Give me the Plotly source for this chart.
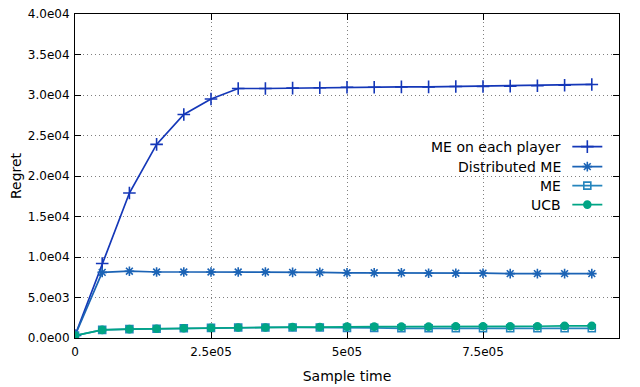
import plotly.graph_objects as go

sample_time = [0, 50000, 100000, 150000, 200000, 250000, 300000, 350000, 400000, 450000,
               500000, 550000, 600000, 650000, 700000, 750000, 800000, 850000, 900000, 950000]

me_each_player = [300, 9200, 17900, 23900, 27600, 29500, 30800, 30800, 30850, 30900,
                  30950, 30950, 31000, 31000, 31050, 31050, 31100, 31150, 31200, 31300]
distributed_me = [300, 8100, 8250, 8150, 8150, 8150, 8150, 8150, 8100, 8100,
                  8050, 8050, 8050, 8000, 8000, 8000, 7950, 7950, 7950, 7950]
me = [300, 1000, 1100, 1150, 1200, 1250, 1300, 1300, 1300, 1300,
      1250, 1250, 1200, 1200, 1200, 1200, 1200, 1200, 1200, 1200]
ucb = [300, 1000, 1100, 1150, 1200, 1250, 1300, 1300, 1350, 1350,
       1400, 1400, 1400, 1400, 1450, 1450, 1450, 1450, 1500, 1500]

series_names = ["ME on each player", "Distributed ME", "ME", "UCB"]
series_values = [me_each_player, distributed_me, me, ucb]
series_colors = ["#1437b8", "#1b63b5", "#2585bd", "#00a585"]
series_symbols = ["cross-thin-open", "asterisk-open", "square-open", "circle"]
series_sizes = [9, 8, 7, 7]

x_tickvals = [0, 250000, 500000, 750000]
x_ticktext = ["0", "2.5e05", "5e05", "7.5e05"]
y_tickvals = [0, 5000, 10000, 15000, 20000, 25000, 30000, 35000, 40000]
y_ticktext = ["0.0e00", "5.0e03", "1.0e04", "1.5e04", "2.0e04", "2.5e04", "3.0e04", "3.5e04", "4.0e04"]

FONT = "DejaVu Sans"
legend_ids = ["legend", "legend2", "legend3", "legend4"]
row_y = [0.5895, 0.5278, 0.4691, 0.4105]

fig = go.Figure()
for name, vals, col, sym, sz, lid in zip(series_names, series_values, series_colors,
                                         series_symbols, series_sizes, legend_ids):
    fig.add_trace(go.Scatter(
        x=sample_time, y=vals, name="", hovertext=name, legend=lid,
        mode="lines+markers",
        line=dict(color=col, width=1.7),
        marker=dict(symbol=sym, size=sz, color=col, line=dict(color=col, width=1.6)),
    ))

# Legend labels (right-aligned text, as in the original) + one single-item legend per row
legend_layout = {}
for name, yy, lid in zip(series_names, row_y, legend_ids):
    fig.add_annotation(x=0.897, y=yy, xref="paper", yref="paper", text=name,
                       showarrow=False, xanchor="right", yanchor="middle",
                       font=dict(family=FONT, size=14, color="black"))
    legend_layout[lid] = dict(x=0.905, y=yy, xref="paper", yref="paper",
                              xanchor="left", yanchor="middle",
                              bgcolor="rgba(0,0,0,0)",
                              font=dict(family=FONT, size=14, color="black"),
                              itemwidth=30)

axis_common = dict(
    showline=True, linecolor="black", linewidth=1, mirror="ticks",
    ticks="inside", ticklen=6, tickcolor="black",
    showgrid=True, gridcolor="#808080", griddash="1px,3px", gridwidth=1,
    zeroline=False, ticklabeloverflow="allow",
    tickfont=dict(family=FONT, size=12, color="black"),
)

fig.update_layout(
    width=640, height=387,
    margin=dict(l=67, r=29, t=6, b=57, autoexpand=False),
    paper_bgcolor="white", plot_bgcolor="white",
    font=dict(family=FONT, size=12, color="black"),
    showlegend=True,
    xaxis=dict(range=[0, 1000000], tickvals=x_tickvals, ticktext=x_ticktext,
               ticklabelstandoff=3,
               title=dict(text="Sample time", font=dict(family=FONT, size=14), standoff=12),
               **axis_common),
    yaxis=dict(range=[0, 40000], tickvals=y_tickvals, ticktext=y_ticktext,
               ticklabelstandoff=2,
               title=dict(text="Regret", font=dict(family=FONT, size=14), standoff=6),
               **axis_common),
    **legend_layout,
)

fig.write_html("out.html")
